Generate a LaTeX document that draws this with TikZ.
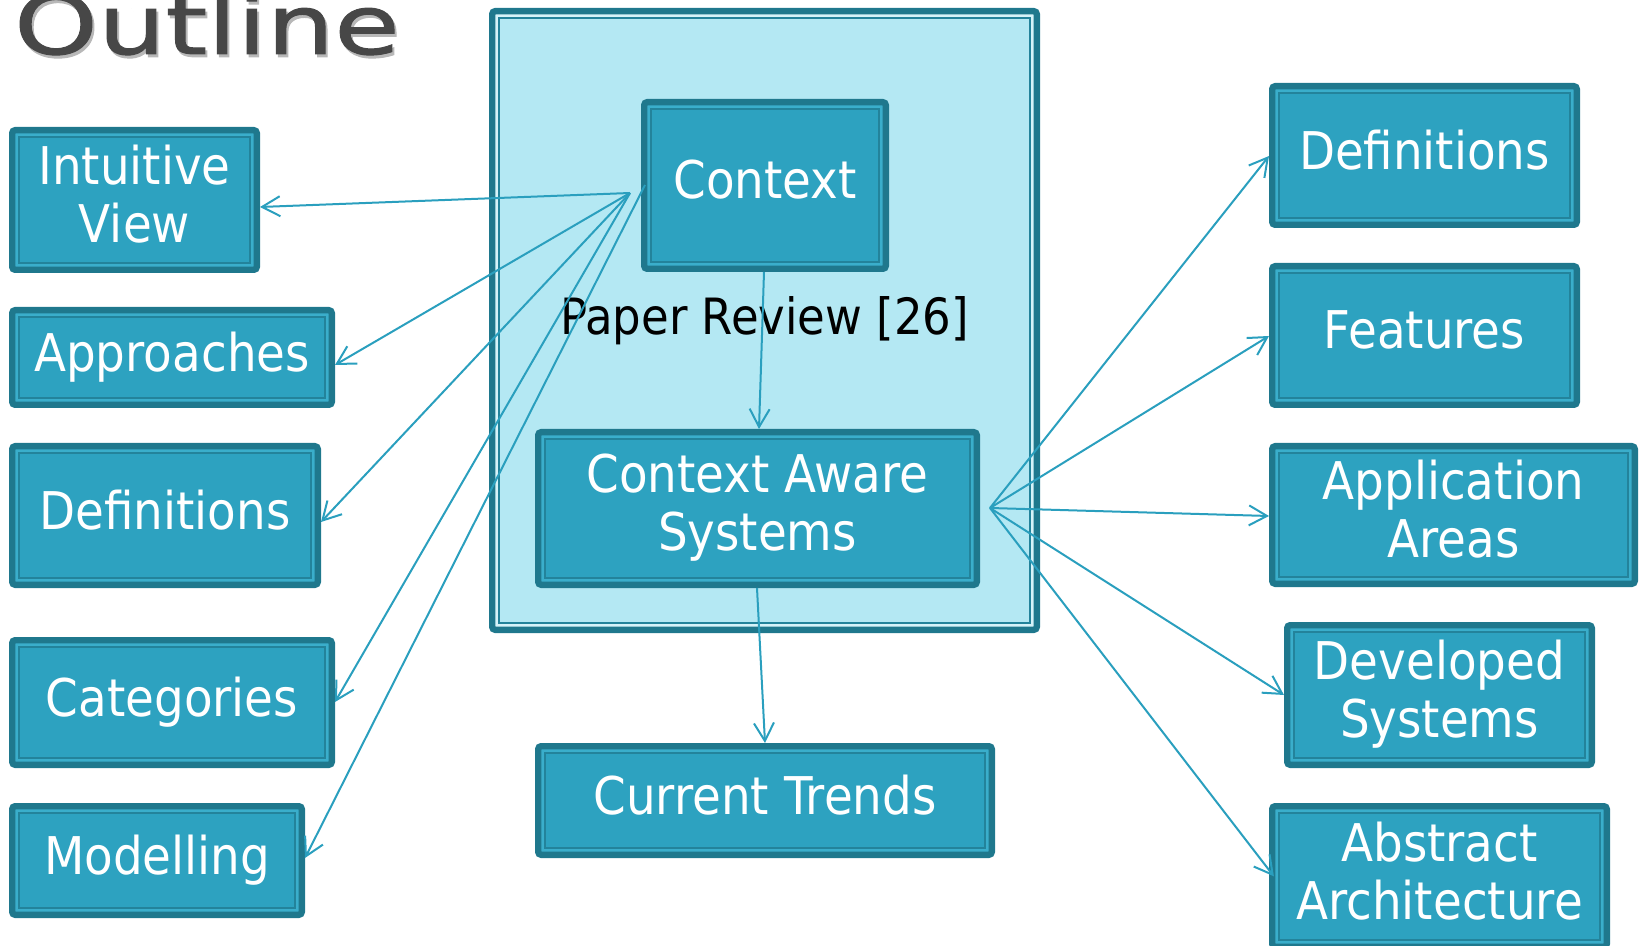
\documentclass[tikz,border=0pt]{standalone}
\usepackage{fontspec}
\usetikzlibrary{arrows.meta}
\newfontfamily\boxfont[FakeStretch=0.9]{DejaVu Sans}
\newfontfamily\titlefont[FakeStretch=1.3,FakeBold=1.2]{DejaVu Sans}
\definecolor{cfill}{HTML}{2DA2C0}
\definecolor{cdark}{HTML}{1F788D}
\definecolor{cthin}{HTML}{23839B}
\definecolor{cstripe}{HTML}{3AAECB}
\definecolor{clight}{HTML}{B4E8F3}
\definecolor{cstripeL}{HTML}{D6F3F9}
\definecolor{carrow}{HTML}{2A9FBE}
\definecolor{ctitle}{HTML}{474747}
\definecolor{cshadow}{HTML}{B8B8B8}
\tikzset{
  cbox/.style={draw=cdark, fill=cfill, line width=3.2pt, rounded corners=1.5pt,
    inner sep=0pt, align=center, text=white, text depth=6pt,
    font=\boxfont\fontsize{26pt}{29pt}\selectfont,
    path picture={
      \draw[cstripe, line width=1.1pt, sharp corners]
        ([shift={(2.15pt,-2.15pt)}]path picture bounding box.north west) rectangle
        ([shift={(-2.15pt,2.15pt)}]path picture bounding box.south east);
      \draw[cthin, line width=1pt, sharp corners]
        ([shift={(3.2pt,-3.2pt)}]path picture bounding box.north west) rectangle
        ([shift={(-3.2pt,3.2pt)}]path picture bounding box.south east);
    }},
  framebox/.style={draw=cdark, fill=clight, line width=3.2pt, rounded corners=1.5pt,
    inner sep=0pt, align=center, text=black,
    font=\boxfont\fontsize{25pt}{28pt}\selectfont,
    path picture={
      \draw[cstripeL, line width=1.1pt, sharp corners]
        ([shift={(2.15pt,-2.15pt)}]path picture bounding box.north west) rectangle
        ([shift={(-2.15pt,2.15pt)}]path picture bounding box.south east);
      \draw[cthin, line width=1pt, sharp corners]
        ([shift={(3.2pt,-3.2pt)}]path picture bounding box.north west) rectangle
        ([shift={(-3.2pt,3.2pt)}]path picture bounding box.south east);
    }},
  link/.style={draw=carrow, line width=1pt, -{Straight Barb[length=9pt,width=10pt,line width=1pt]}},
  titletext/.style={anchor=base west, font=\titlefont\fontsize{41pt}{45pt}\selectfont},
}
\newcommand\cbox[7][cbox]{%
  \node[#1, minimum width={(#5-#3)*0.5pt-3.2pt}, minimum height={(#6-#4)*0.5pt-3.2pt}]
    (#2) at ({(#3+#5)/2},{(#4+#6)/2}) {#7};}
\begin{document}
\begin{tikzpicture}[x=0.5pt,y=-0.5pt]
\useasboundingbox (0,0) rectangle (1639,946);
\clip (0,0) rectangle (1639,946);
% title
\node[titletext, text=cshadow] (titleshadow) at (9,57) {Outline};
\node[titletext, text=ctitle] (title) at (7,54) {Outline};
% container
\cbox[framebox]{review}{489}{8}{1040}{633}{Paper Review [26]}
% centre boxes
\cbox{ctx}{641}{99}{889}{272}{Context}
\cbox{cas}{535}{429}{980}{588}{Context Aware\\Systems}
\cbox{ct}{535}{743}{995}{858}{Current Trends}
% left column
\cbox{iv}{9}{127}{260}{273}{Intuitive\\View}
\cbox{ap}{9}{307}{335}{408}{Approaches}
\cbox{dl}{9}{443}{321}{588}{Definitions}
\cbox{cat}{9}{637}{335}{768}{Categories}
\cbox{mod}{9}{803}{305}{918}{Modelling}
% right column
\cbox{dr}{1269}{83}{1580}{228}{Definitions}
\cbox{fe}{1269}{263}{1580}{408}{Features}
\cbox{aa}{1269}{443}{1638}{587}{Application\\Areas}
\cbox{ds}{1284}{622}{1595}{768}{Developed\\Systems}
\cbox{abs}{1269}{803}{1610}{950}{Abstract\\Architecture}
% sources
\coordinate (ctxA) at (630,193);
\coordinate (ctxB) at (645,185);
\coordinate (casR) at (990,508);
% arrows
\draw[link] (ctxA) -- (iv.east |- 0,207);
\draw[link] (ctxA) -- (ap.east |- 0,365);
\draw[link] (ctxA) -- (dl.east |- 0,522);
\draw[link] (ctxA) -- (cat.east |- 0,702);
\draw[link] (ctxB) -- (mod.east |- 0,858);
\draw[link] (764,0 |- ctx.south) -- (759,0 |- cas.north);
\draw[link] (757,0 |- cas.south) -- (765,0 |- ct.north);
\draw[link] (casR) -- (dr.west |- 0,156);
\draw[link] (casR) -- (fe.west |- 0,336);
\draw[link] (casR) -- (aa.west |- 0,516);
\draw[link] (casR) -- (ds.west |- 0,695);
\draw[link, shorten >=-4pt] (casR) -- (abs.west |- 0,870);
\end{tikzpicture}
\end{document}
